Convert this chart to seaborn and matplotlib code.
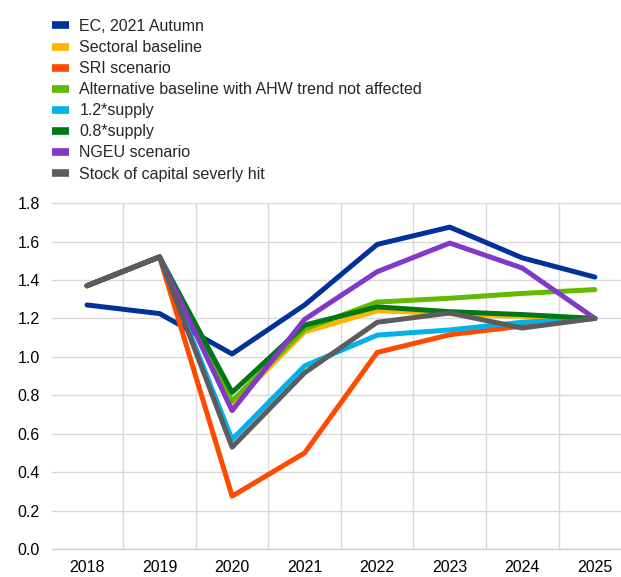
import numpy as np
import pandas as pd
import seaborn as sns
import matplotlib.pyplot as plt
from matplotlib.lines import Line2D

# Data
years = ["2018", "2019", "2020", "2021", "2022", "2023", "2024", "2025"]
ec_autumn = [1.27, 1.225, 1.015, 1.27, 1.585, 1.675, 1.515, 1.415]
sectoral = [1.37, 1.52, 0.75, 1.13, 1.24, 1.225, 1.21, 1.20]
sri = [1.37, 1.52, 0.275, 0.50, 1.023, 1.115, 1.16, 1.20]
alt_baseline = [1.37, 1.52, 0.77, 1.145, 1.285, 1.305, 1.33, 1.35]
supply_12 = [1.37, 1.52, 0.57, 0.953, 1.113, 1.14, 1.18, 1.20]
supply_08 = [1.37, 1.52, 0.815, 1.165, 1.26, 1.235, 1.22, 1.20]
ngeu = [1.37, 1.52, 0.72, 1.195, 1.443, 1.592, 1.462, 1.20]
capital_hit = [1.37, 1.52, 0.53, 0.917, 1.18, 1.228, 1.15, 1.20]

labels = ["EC, 2021 Autumn", "Sectoral baseline", "SRI scenario",
          "Alternative baseline with AHW trend not affected", "1.2*supply",
          "0.8*supply", "NGEU scenario", "Stock of capital severly hit"]
series = [ec_autumn, sectoral, sri, alt_baseline, supply_12, supply_08, ngeu, capital_hit]
colors = ["#003299", "#FFB400", "#FF4B00", "#65B800", "#00B1EA",
          "#007816", "#8139C6", "#5C5C5C"]

# long format for seaborn
rows = []
for lab, vals in zip(labels, series):
    for i, v in enumerate(vals):
        rows.append({"x": i, "value": v, "series": lab})
df = pd.DataFrame(rows)

sns.set_style("white")
plt.rcParams["font.family"] = ["Liberation Sans", "DejaVu Sans"]

fig = plt.figure(figsize=(6.21, 5.77), dpi=100)
ax = fig.add_axes([0.084, 0.0485, 0.916, 0.5995])

sns.lineplot(data=df, x="x", y="value", hue="series", hue_order=labels,
             palette=colors, linewidth=3.6, legend=False, ax=ax,
             sort=False, estimator=None)

ax.set_xlim(-0.48, 7.36)
ax.set_ylim(0, 1.8)
ax.set_yticks(np.arange(0, 1.81, 0.2))
ax.set_yticklabels([f"{t:.1f}" for t in np.arange(0, 1.81, 0.2)])
ax.set_xticks(range(len(years)))
ax.set_xticklabels(years)
ax.set_xticks(np.arange(0.5, 7, 1), minor=True)
ax.set_xlabel("")
ax.set_ylabel("")

ax.grid(axis="y", color="#d9d9d9", linewidth=1.0)
ax.grid(axis="x", which="minor", color="#d9d9d9", linewidth=1.0)
ax.grid(axis="x", which="major", visible=False)
ax.set_axisbelow(True)
for s in ["top", "right", "left"]:
    ax.spines[s].set_visible(False)
ax.spines["bottom"].set_color("#d0d0d0")
ax.spines["bottom"].set_linewidth(1.0)
ax.tick_params(axis="both", which="both", length=0, labelsize=11.5, colors="black")
ax.tick_params(axis="x", pad=8)
ax.tick_params(axis="y", pad=9)

handles = [Line2D([0], [0], color=c, linewidth=5.5, solid_capstyle="butt") for c in colors]
fig.legend(handles, labels, loc="upper left", bbox_to_anchor=(0.074, 0.978),
           frameon=False, fontsize=11.5, handlelength=1.06, handletextpad=0.63,
           labelspacing=0.38, borderaxespad=0)

fig.savefig("out.png", dpi=100)
